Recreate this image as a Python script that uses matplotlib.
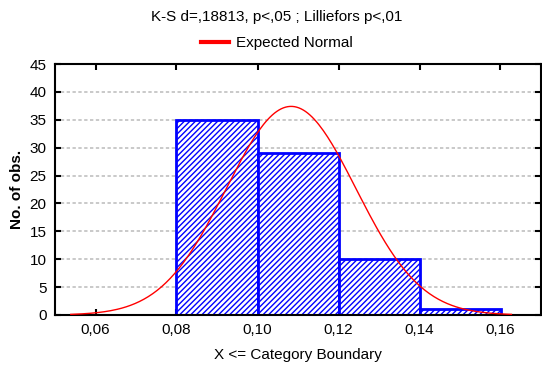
import matplotlib.pyplot as plt
import numpy as np
from matplotlib.ticker import FuncFormatter

# histogram bins (upper category boundaries) and counts
bin_left = [0.08, 0.10, 0.12, 0.14]
bin_width = 0.02
counts = [35, 29, 10, 1]

# fitted normal parameters
mean_x = 0.1083
sd_x = 0.016
n_obs = sum(counts)

x_ticks = [0.06, 0.08, 0.10, 0.12, 0.14, 0.16]
y_ticks = [0, 5, 10, 15, 20, 25, 30, 35, 40, 45]

plt.rcParams['font.family'] = ['Liberation Sans', 'DejaVu Sans']
plt.rcParams['hatch.linewidth'] = 1.0

fig = plt.figure(figsize=(5.42, 3.67), dpi=100)
ax = fig.add_axes([55 / 542, 1 - 315 / 367, 486 / 542, 251 / 367])

# grid first so the bars cover it
for y in y_ticks[1:-1]:
    ax.axhline(y, color='#c0c0c0', linestyle=(0, (2, 1.5)), linewidth=1.2, zorder=0)

ax.bar(bin_left, counts, width=bin_width, align='edge', facecolor='white',
       edgecolor='#0000ff', hatch='//////', linewidth=2, zorder=2)

# expected normal curve
xs = np.linspace(mean_x - 3.4 * sd_x, mean_x + 3.4 * sd_x, 200)
ys = n_obs * bin_width / (sd_x * np.sqrt(2 * np.pi)) * np.exp(-0.5 * ((xs - mean_x) / sd_x) ** 2)
ax.plot(xs, ys, color='red', linewidth=1, zorder=3, label='Expected Normal')

ax.set_xlim(0.05, 0.17)
ax.set_ylim(0, 45)
ax.set_xticks(x_ticks)
ax.set_yticks(y_ticks)
ax.xaxis.set_major_formatter(FuncFormatter(lambda v, p: f"{v:.2f}".replace('.', ',')))
ax.tick_params(direction='in', length=4, width=1.5, labelsize=11, top=True, right=True,
               pad=6)
for s in ax.spines.values():
    s.set_linewidth(1.5)

ax.set_xlabel('X <= Category Boundary', fontsize=11, labelpad=8)
ax.set_ylabel('No. of obs.', fontsize=11, fontweight='bold', labelpad=4)

fig.text(277 / 542, 1 - 17 / 367, 'K-S d=,18813, p<,05 ; Lilliefors p<,01', ha='center',
         va='center', fontsize=11)
ax.legend(loc='center', bbox_to_anchor=(277 / 542, 1 - 43 / 367),
          bbox_transform=fig.transFigure, frameon=False, fontsize=11,
          handlelength=1.8, borderaxespad=0, handletextpad=0.5, borderpad=0)
ax.get_legend().get_lines()[0].set_linewidth(3)

fig.savefig('out.png', dpi=100)
